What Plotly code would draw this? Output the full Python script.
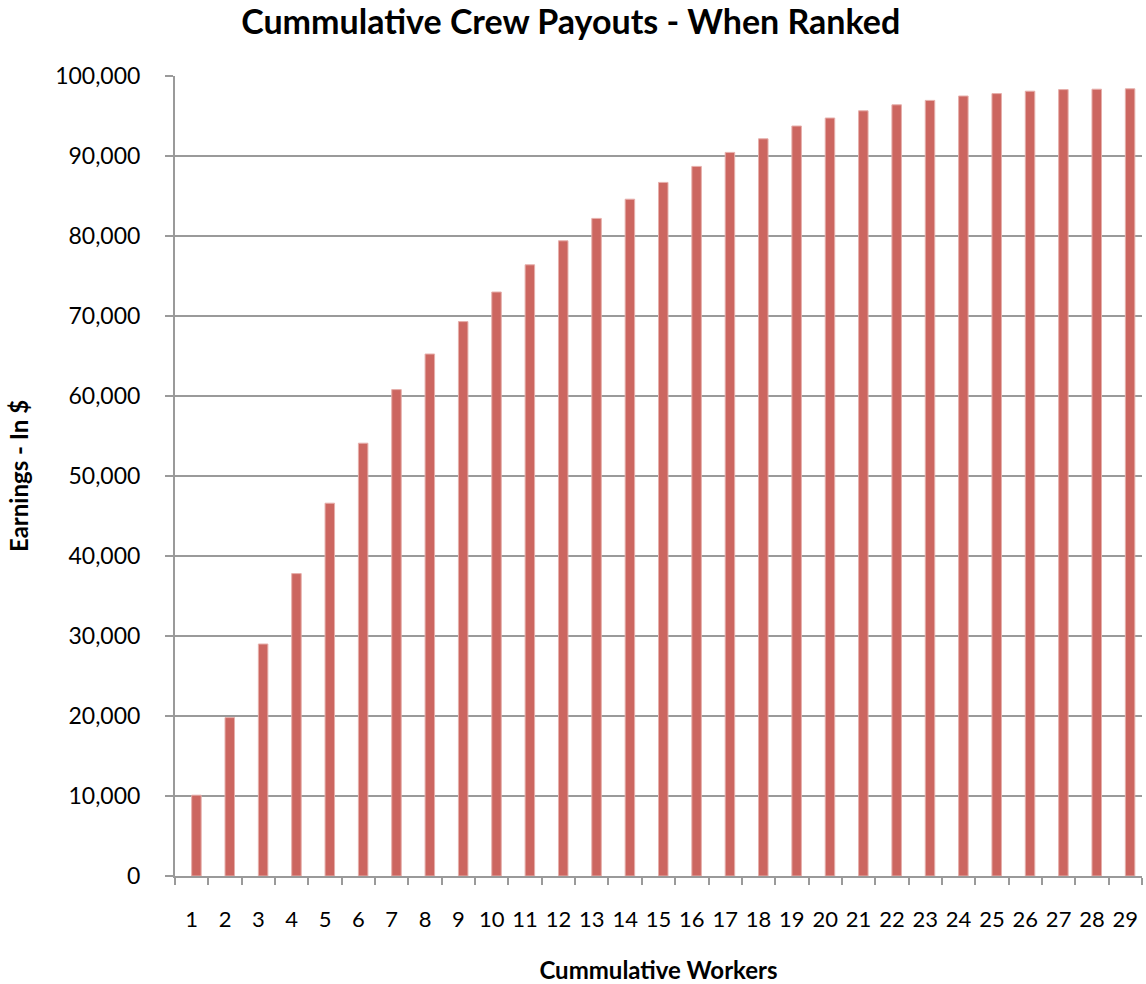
import plotly.graph_objects as go

# Cumulative payouts per number of ranked workers
workers = [str(i) for i in range(1, 30)]
earnings = [10100, 19800, 29000, 37800, 46600, 54100, 60800, 65250, 69300, 73000,
            76400, 79400, 82200, 84600, 86700, 88700, 90450, 92150, 93750, 94750,
            95650, 96400, 96950, 97500, 97800, 98100, 98300, 98350, 98400]
y_ticks = list(range(0, 100001, 10000))

FONT = "Lato, 'Open Sans', sans-serif"
GRID = "#9a9a9a"

fig = go.Figure(
    go.Bar(
        x=workers,
        y=earnings,
        width=0.285,
        offset=0,
        marker=dict(color="#CC6660", line=dict(color="#E6AFAB", width=1)),
        hoverinfo="x+y",
    )
)

fig.update_layout(
    width=1146,
    height=984,
    paper_bgcolor="white",
    plot_bgcolor="white",
    margin=dict(l=175, r=4, t=76, b=108),
    showlegend=False,
    font=dict(family=FONT, color="black"),
    title=dict(
        text="<b>Cummulative Crew Payouts - When Ranked</b>",
        x=0.498, xanchor="center", y=0.978, yanchor="middle",
        font=dict(family=FONT, size=34, color="black"),
    ),
)

fig.update_xaxes(
    type="category",
    tickson="boundaries",
    ticks="outside",
    ticklen=7,
    tickwidth=2,
    tickcolor=GRID,
    tickangle=0,
    ticklabelstandoff=23,
    showline=True,
    linecolor=GRID,
    linewidth=2,
    showgrid=False,
    tickfont=dict(family=FONT, size=22, color="black"),
    title=dict(text="<b>Cummulative Workers</b>", standoff=31,
               font=dict(family=FONT, size=24, color="black")),
    range=[-0.5, 28.5],
)

fig.update_yaxes(
    range=[0, 100000],
    tickvals=y_ticks,
    tickformat=",d",
    ticks="outside",
    ticklen=8,
    tickwidth=2,
    tickcolor=GRID,
    ticklabelstandoff=20,
    showline=True,
    linecolor=GRID,
    linewidth=2,
    showgrid=True,
    gridcolor=GRID,
    gridwidth=2,
    zeroline=False,
    tickfont=dict(family=FONT, size=23, color="black"),
    title=dict(text="<b>Earnings - In $</b>", standoff=20,
               font=dict(family=FONT, size=24, color="black")),
)

fig.write_html("out.html")
